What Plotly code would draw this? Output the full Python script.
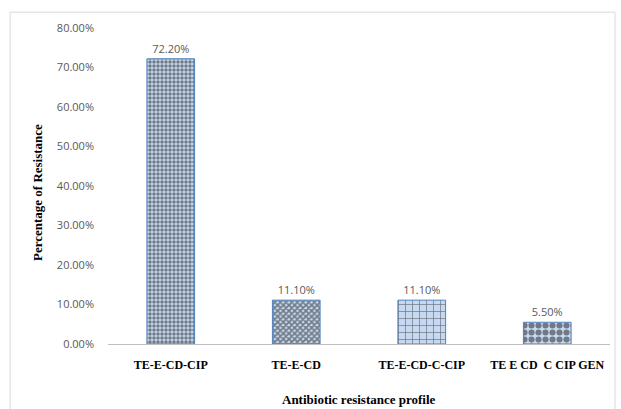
import plotly.graph_objects as go

categories = ["TE-E-CD-CIP", "TE-E-CD", "TE-E-CD-C-CIP", "TE E CD  C CIP GEN"]
values = [0.722, 0.111, 0.111, 0.055]
y_ticks = [0, 0.1, 0.2, 0.3, 0.4, 0.5, 0.6, 0.7, 0.8]

patterns = [".", "x", "+", "."]
pat_sizes = [4, 4, 7, 7]
pat_solid = [0.6, 0.65, 0.2, 0.6]

fig = go.Figure()
fig.add_trace(go.Bar(
    x=categories, y=values,
    marker=dict(
        color="#c6d9f0",
        line=dict(color="#4f81bd", width=1),
        pattern=dict(shape=patterns, size=pat_sizes, solidity=pat_solid,
                     fgcolor="#1a1a1a", fillmode="overlay"),
    ),
    text=[f"{v*100:.2f}%" for v in values],
    textposition="outside",
    textfont=dict(family="Open Sans, Liberation Sans, sans-serif", size=11, color="#595959"),
    cliponaxis=False,
))

fig.update_layout(
    width=621, height=409,
    margin=dict(l=108, r=11, t=28, b=65),
    paper_bgcolor="white", plot_bgcolor="white",
    bargap=0.62,
    showlegend=False,
    xaxis=dict(
        showline=True, linecolor="#bfbfbf", linewidth=1,
        tickfont=dict(family="Liberation Serif, Times New Roman, serif", size=12, color="black", weight="bold"),
        ticks="", ticklabelstandoff=10,
    ),
    yaxis=dict(
        range=[0, 0.8], tickvals=y_ticks, tickformat=".2%",
        showgrid=False, zeroline=False, showline=False,
        tickfont=dict(family="Open Sans, Liberation Sans, sans-serif", size=11, color="#595959"),
        ticks="", ticklabelstandoff=13,
    ),
    annotations=[
        dict(text="<b>Antibiotic resistance profile</b>", xref="paper", yref="paper",
             x=0.5, y=-0.177, yanchor="middle", xanchor="center", showarrow=False,
             font=dict(family="Liberation Serif, Times New Roman, serif", size=13, color="black")),
        dict(text="<b>Percentage of Resistance</b>", xref="paper", yref="paper",
             x=-0.14, y=0.48, textangle=-90, xanchor="center", yanchor="middle", showarrow=False,
             font=dict(family="Liberation Serif, Times New Roman, serif", size=13, color="black")),
    ],
    shapes=[
        dict(type="rect", xref="paper", yref="paper", x0=-0.195, x1=1.01, y0=-0.3, y1=1.05,
             line=dict(color="#d9d9d9", width=1), fillcolor="rgba(0,0,0,0)", layer="below"),
    ],
)

fig.write_html("out.html")
